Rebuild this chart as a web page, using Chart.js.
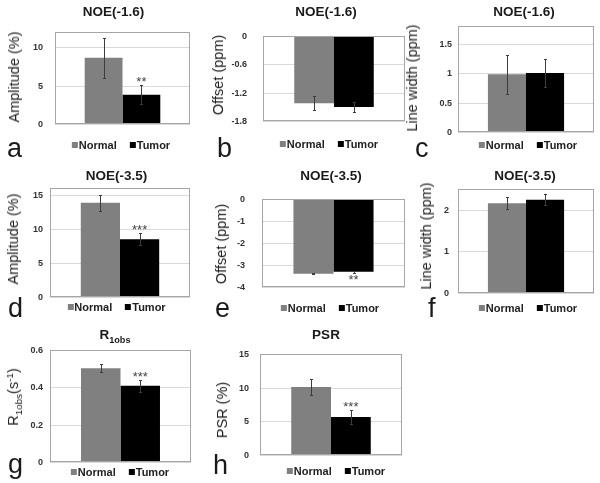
<!DOCTYPE html>
<html>
<head>
<meta charset="utf-8">
<script src="https://cdn.jsdelivr.net/npm/chart.js@4"></script>
<style>
body { margin: 0; background: #fff; }
#wrap { position: relative; width: 600px; height: 483px; overflow: hidden; font-family: "Liberation Sans", Arial, sans-serif; color: #1a1a1a; }
canvas { position: absolute; }
.ttl { position: absolute; font-weight: bold; font-size: 13.5px; transform: translate(-50%, -50%); white-space: nowrap; }
.ytl { position: absolute; font-size: 14.5px; color: #222; transform: translate(-50%, -50%) rotate(-90deg); white-space: nowrap; }
.ltr { position: absolute; font-size: 27px; line-height: 27px; }
.lgd { position: absolute; font-weight: bold; font-size: 11px; color: #222; transform: translate(-50%, -50%); white-space: nowrap; display: flex; align-items: center; }
.sw { display: inline-block; width: 6px; height: 6px; margin-right: 1px; }
.sub { font-size: 68%; position: relative; top: 4px; }
.sup { font-size: 68%; position: relative; top: -5px; }
</style>
</head>
<body>
<div id="wrap"></div>
<script>
// data
const panelIds = ['a', 'b', 'c', 'd', 'e', 'f', 'g', 'h']
const panelTitles = ['NOE(-1.6)', 'NOE(-1.6)', 'NOE(-1.6)', 'NOE(-3.5)', 'NOE(-3.5)', 'NOE(-3.5)', 'R<span class="sub">1obs</span>', 'PSR']
const axisTitles = ['Amplitude (%)', 'Offset (ppm)', 'Line width (ppm)', 'Amplitude (%)', 'Offset (ppm)', 'Line width (ppm)',
    'R<span class="sub">1obs</span>(s<span class="sup">-1</span>)', 'PSR (%)']
const seriesNames = ['Normal', 'Tumor']
const normalMean = [8.7, -1.41, 0.99, 13.9, -3.37, 2.17, 0.505, 10.17]
const normalErr = [2.6, 0.15, 0.33, 1.15, 0.03, 0.14, 0.023, 1.2]
const tumorMean = [3.9, -1.49, 1.01, 8.55, -3.28, 2.25, 0.411, 5.72]
const tumorErr = [1.25, 0.11, 0.23, 0.85, 0.05, 0.13, 0.033, 1.05]
const tumorStars = ['**', '', '', '***', '**', '', '***', '***']
const yMin = [0, -1.8, 0, 0, -4, 0, 0, 0]
const yMax = [12, 0, 1.8, 16, 0, 2.5, 0.6, 15]
const yTicks = [[0, 5, 10], [-1.8, -1.2, -0.6, 0], [0, 0.5, 1, 1.5], [0, 5, 10, 15], [-4, -3, -2, -1, 0], [0, 1, 2], [0, 0.2, 0.4, 0.6], [0, 5, 10, 15]]

// page layout (pixels)
const plotBox = [[55, 23, 190, 134], [263, 23, 405, 135], [458, 23, 594, 136], [50, 184, 190, 302],
    [262, 185, 405, 302], [458, 183, 594, 300], [50, 346, 191, 467], [260, 346, 402, 464]]
const tickPad = [12, 16, 6, 7, 17, 9, 7, 11]
const titlePos = [[113.5, 11], [326, 11], [524, 11], [116.5, 175], [331, 175], [525, 175], [115, 334], [326, 334]]
const axisTitlePos = [[14, 77], [217.5, 75], [411.5, 77.5], [12.5, 238.5], [220.5, 244], [426, 236], [13, 397], [222, 410]]
const legendPos = [[121, 144.5], [329, 144], [528, 145], [116.5, 307], [330, 307.5], [528, 308], [120, 471.5], [336, 471]]
const letterPos = [[7, 157], [217, 157], [415, 157], [8, 317], [215, 317], [428, 317], [8, 473], [213, 474]]
const colors = ['#808080', '#000000']

const AXW = 45, PADT = 8, PADB = 8, PADR = 4
const wrap = document.getElementById('wrap')
Chart.defaults.font.family = '"Liberation Sans", Arial, sans-serif'

const boxPlugin = {
    id: 'plotBox',
    afterDraw(chart) {
        const a = chart.chartArea, c = chart.ctx
        c.save()
        c.strokeStyle = '#a6a6a6'
        c.lineWidth = 1
        c.strokeRect(Math.round(a.left) + 0.5, Math.round(a.top) + 0.5, Math.round(a.right - a.left) - 1, Math.round(a.bottom - a.top) - 1)
        c.restore()
    }
}

const errPlugin = {
    id: 'errBars',
    afterDatasetsDraw(chart, args, opts) {
        const c = chart.ctx, ys = chart.scales.y
        c.save()
        c.strokeStyle = '#3c3c3c'
        c.lineWidth = 1
        opts.errors.forEach((err, i) => {
            const bar = chart.getDatasetMeta(i).data[0]
            const v = chart.data.datasets[i].data[0]
            const x = Math.round(bar.x) + 0.5
            const y1 = Math.round(ys.getPixelForValue(v + err)) + 0.5
            const y2 = Math.round(ys.getPixelForValue(v - err)) + 0.5
            c.beginPath()
            c.moveTo(x, y1); c.lineTo(x, y2)
            c.moveTo(x - 1.5, y1); c.lineTo(x + 1.5, y1)
            c.moveTo(x - 1.5, y2); c.lineTo(x + 1.5, y2)
            c.stroke()
        })
        if (opts.stars) {
            const bar = chart.getDatasetMeta(1).data[0]
            const v = chart.data.datasets[1].data[0]
            const err = opts.errors[1]
            c.fillStyle = '#444'
            c.font = '13px "Liberation Sans", Arial, sans-serif'
            c.textAlign = 'center'
            c.textBaseline = 'alphabetic'
            let y
            if (v >= 0) y = ys.getPixelForValue(v + err) + 1
            else y = ys.getPixelForValue(v - err) + 11
            c.fillText(opts.stars, bar.x, y)
        }
        c.restore()
    }
}

function addDiv(cls, html, x, y) {
    const d = document.createElement('div')
    d.className = cls
    d.innerHTML = html
    d.style.left = x + 'px'
    d.style.top = y + 'px'
    wrap.appendChild(d)
    return d
}

panelIds.forEach((id, i) => {
    const [L, T, R, B] = plotBox[i]
    const cv = document.createElement('canvas')
    cv.width = (R - L) + AXW + PADR
    cv.height = (B - T) + PADT + PADB
    cv.style.left = (L - AXW) + 'px'
    cv.style.top = (T - PADT) + 'px'
    wrap.appendChild(cv)

    new Chart(cv, {
        type: 'bar',
        data: {
            labels: [''],
            datasets: [
                { label: seriesNames[0], data: [normalMean[i]], backgroundColor: colors[0], borderWidth: 0 },
                { label: seriesNames[1], data: [tumorMean[i]], backgroundColor: colors[1], borderWidth: 0 }
            ]
        },
        options: {
            responsive: false,
            animation: false,
            layout: { padding: { left: 0, right: PADR, top: PADT, bottom: PADB } },
            datasets: { bar: { categoryPercentage: 0.56, barPercentage: 1 } },
            plugins: {
                legend: { display: false },
                tooltip: { enabled: false },
                errBars: { errors: [normalErr[i], tumorErr[i]], stars: tumorStars[i] }
            },
            scales: {
                x: { display: false },
                y: {
                    min: yMin[i],
                    max: yMax[i],
                    afterFit(s) { s.width = AXW },
                    afterBuildTicks(s) { s.ticks = yTicks[i].map(v => ({ value: v })) },
                    ticks: {
                        padding: tickPad[i],
                        color: '#333',
                        font: { size: 9, weight: 'bold' },
                        callback: v => String(v)
                    },
                    grid: { color: '#d9d9d9', drawTicks: false },
                    border: { display: false }
                }
            }
        },
        plugins: [errPlugin, boxPlugin]
    })

    addDiv('ttl', panelTitles[i], titlePos[i][0], titlePos[i][1])
    addDiv('ytl', axisTitles[i], axisTitlePos[i][0], axisTitlePos[i][1])
    addDiv('lgd', '<span class="sw" style="background:' + colors[0] + '"></span>' + seriesNames[0] +
        '<span class="sw" style="background:' + colors[1] + ';margin-left:13px"></span>' + seriesNames[1],
        legendPos[i][0], legendPos[i][1])
    addDiv('ltr', id, letterPos[i][0], letterPos[i][1] - 22)
})
</script>
</body>
</html>
